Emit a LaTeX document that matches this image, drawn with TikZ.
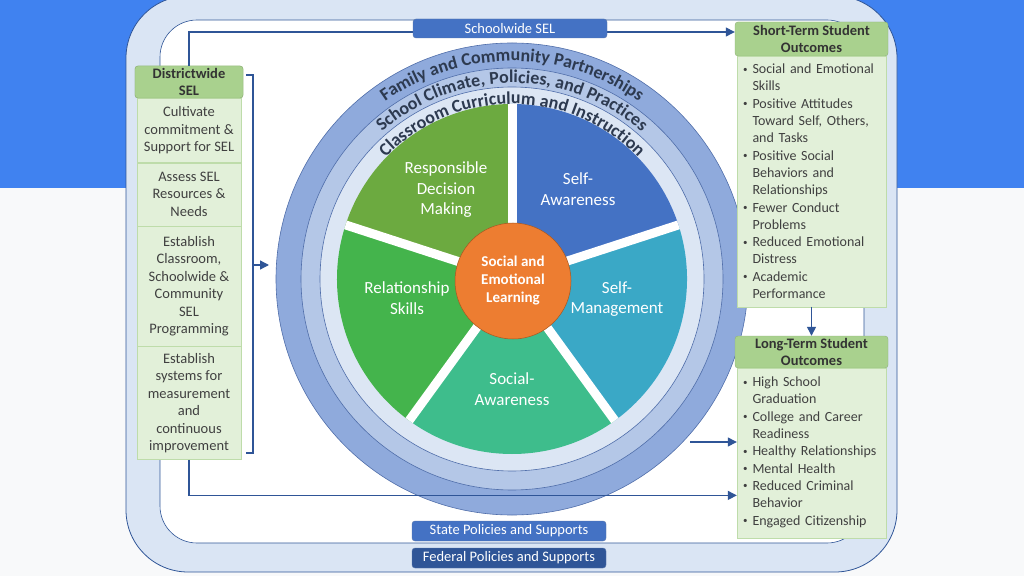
\documentclass[tikz,border=0pt]{standalone}
\usepackage{fontspec}
\setmainfont{Carlito}
\usetikzlibrary{arrows.meta, positioning, calc, decorations.text}
\definecolor{slideBlue}{RGB}{64, 130, 240}
\definecolor{slideGray}{RGB}{248, 249, 250}
\definecolor{frameFill}{RGB}{218, 229, 244}
\definecolor{lineBlue}{RGB}{47, 85, 151}
\definecolor{midBlue}{RGB}{68, 114, 196}
\definecolor{ringOuter}{RGB}{143, 170, 220}
\definecolor{ringMid}{RGB}{180, 199, 231}
\definecolor{ringInner}{RGB}{220, 230, 244}
\definecolor{ringEdge}{RGB}{80, 110, 170}
\definecolor{arcText}{RGB}{45, 58, 80}
\definecolor{hdrGreen}{RGB}{169, 209, 142}
\definecolor{bodyGreen}{RGB}{226, 240, 217}
\definecolor{edgeGreen}{RGB}{190, 220, 170}
\definecolor{bodyText}{RGB}{64, 64, 64}
\definecolor{segAware}{RGB}{68, 114, 196}
\definecolor{segManage}{RGB}{58, 168, 198}
\definecolor{segSocial}{RGB}{62, 189, 140}
\definecolor{segRelate}{RGB}{68, 180, 76}
\definecolor{segDecide}{RGB}{108, 170, 64}
\definecolor{selOrange}{RGB}{237, 125, 49}

\newcommand{\outitem}[1]{\par\hangindent=9.5pt\hangafter=1\noindent\makebox[9.5pt][l]{\raisebox{1.5pt}{\fontsize{9}{9}\selectfont\textbullet}}#1\par}

\begin{document}
\begin{tikzpicture}[
    x=1pt, y=1pt,
    hdr/.style={
        rectangle,
        rounded corners=3pt,
        fill=hdrGreen,
        draw=hdrGreen!85!black,
        font=\fontsize{14.5}{17}\selectfont\bfseries,
        text=black!80,
        align=center,
        inner sep=0pt
    },
    stepbox/.style={
        rectangle,
        fill=bodyGreen,
        draw=edgeGreen,
        font=\fontsize{14.5}{17.5}\selectfont,
        text=bodyText,
        align=center,
        minimum width=104pt,
        inner sep=0pt
    },
    outbox/.style={
        rectangle,
        fill=bodyGreen,
        draw=edgeGreen,
        font=\fontsize{14}{17.3}\selectfont,
        text=bodyText,
        align=left,
        text width=137pt,
        inner xsep=6pt,
        inner ysep=0pt
    },
    policy/.style={
        rectangle,
        rounded corners=3pt,
        fill=midBlue,
        draw=lineBlue!80,
        text=white,
        font=\fontsize{14.5}{16}\selectfont,
        minimum width=194pt,
        minimum height=20pt,
        inner sep=0pt
    },
    flow/.style={
        draw=lineBlue,
        line width=1.3pt,
        -{Triangle[length=9pt, width=9pt]}
    },
    slice/.style={
        font=\fontsize{17}{20.5}\selectfont,
        text=white,
        align=center
    },
    ring/.style={
        draw=ringEdge,
        line width=0.6pt
    }
]
\useasboundingbox (0,0) rectangle (1024,576);

% Slide background
\fill[slideGray] (0,0) rectangle (1024,576);
\fill[slideBlue] (0,388) rectangle (1024,576);

% Frame
\draw[fill=frameFill, draw=lineBlue, line width=0.8pt, rounded corners=62pt] (126,4) rectangle (897,580);
\draw[fill=white, draw=lineBlue, line width=0.6pt, rounded corners=37pt] (160,33) rectangle (864,556);

% Wheel
\coordinate (W) at (512,297);
\fill[ring, fill=ringOuter] (W) circle (236pt);
\draw[ring, fill=ringMid] (W) circle (211pt);
\draw[ring, fill=ringInner] (W) circle (192pt);

\fill[segAware] (W) -- ++(18:175pt) arc[start angle=18, end angle=90, radius=175pt] -- cycle;
\fill[segManage] (W) -- ++(-54:175pt) arc[start angle=-54, end angle=18, radius=175pt] -- cycle;
\fill[segSocial] (W) -- ++(-126:175pt) arc[start angle=-126, end angle=-54, radius=175pt] -- cycle;
\fill[segRelate] (W) -- ++(162:175pt) arc[start angle=162, end angle=234, radius=175pt] -- cycle;
\fill[segDecide] (W) -- ++(90:175pt) arc[start angle=90, end angle=162, radius=175pt] -- cycle;
\foreach \a in {90,18,-54,-126,162}
    \draw[white, line width=9pt] (W) -- ++(\a:175pt);

% Ring labels
\path[decorate, decoration={text along path, text align=center, text color=arcText,
    text={|\fontsize{18}{18}\selectfont\bfseries|Family and Community Partnerships}}]
    ($(W)+(150:218pt)$) arc[start angle=150, end angle=30, radius=218pt];
\path[decorate, decoration={text along path, text align=center, text color=arcText,
    text={|\fontsize{18}{18}\selectfont\bfseries|School Climate, Policies, and Practices}}]
    ($(W)+(150:196pt)$) arc[start angle=150, end angle=30, radius=196pt];
\path[decorate, decoration={text along path, text align=center, text color=arcText,
    text={|\fontsize{18}{18}\selectfont\bfseries|Classroom Curriculum and Instruction}}]
    ($(W)+(150:175pt)$) arc[start angle=150, end angle=30, radius=175pt];

% Competencies
\node[slice] (decide) at (446,386) {Responsible\\Decision\\Making};
\node[slice] (aware) at (578,387) {Self-\\Awareness};
\node[slice] (relate) at (407,278) {Relationship\\Skills};
\node[slice] (manage) at (617,277) {Self-\\Management};
\node[slice] (social) at (512,187) {Social-\\Awareness};
\node[circle, fill=selOrange, draw=selOrange!70!black, line width=0.5pt, minimum size=116pt,
      font=\fontsize{15}{18}\selectfont\bfseries, text=white, align=center] (sel) at (513,295)
      {Social and\\Emotional\\Learning};

% Districtwide SEL
\node[hdr, minimum width=108pt, minimum height=32pt] (dhdr) at (189,494) {Districtwide\\SEL};
\node[stepbox, minimum height=64pt, below=0pt of dhdr] (dstep1) {Cultivate\\commitment \&\\Support for SEL};
\node[stepbox, minimum height=63pt, below=0pt of dstep1] (dstep2) {Assess SEL\\Resources \&\\Needs};
\node[stepbox, minimum height=120pt, below=0pt of dstep2] (dstep3) {Establish\\Classroom,\\Schoolwide \&\\Community\\SEL\\Programming};
\node[stepbox, minimum height=113pt, below=0pt of dstep3] (dstep4) {Establish\\systems for\\measurement\\and\\continuous\\improvement};
\node[hdr, minimum width=108pt, minimum height=32pt] at (dhdr) {Districtwide\\SEL};

% Student outcomes
\node[hdr, minimum width=153pt, minimum height=34pt] (sthdr) at (811.5,537) {Short-Term Student\\Outcomes};
\node[outbox, minimum height=249pt, below=0pt of sthdr] (stbody) {%
    \outitem{Social and Emotional\newline Skills}
    \outitem{Positive Attitudes\newline Toward Self, Others,\newline and Tasks}
    \outitem{Positive Social\newline Behaviors and\newline Relationships}
    \outitem{Fewer Conduct\newline Problems}
    \outitem{Reduced Emotional\newline Distress}
    \outitem{Academic\newline Performance}\vspace*{8pt}};
\node[hdr, minimum width=153pt, minimum height=32pt] (lthdr) at (811.5,224) {Long-Term Student\\Outcomes};
\node[outbox, minimum height=170pt, below=0pt of lthdr] (ltbody) {%
    \outitem{High School\newline Graduation}
    \outitem{College and Career\newline Readiness}
    \outitem{Healthy Relationships}
    \outitem{Mental Health}
    \outitem{Reduced Criminal\newline Behavior}
    \outitem{Engaged Citizenship}\vspace*{10pt}};

% Connectors
\coordinate (brtop) at (246,501);
\coordinate (brbot) at (246,123);
\coordinate (brmid) at (253,311);
\coordinate (wheelin) at (269,311);
\coordinate (wheelout) at (690,134);
\draw[draw=lineBlue, line width=1.3pt] (brtop) -- ++(7,0) |- (brbot);
\draw[flow] (brmid) -- (wheelin);
\draw[flow] (dhdr.north) |- ([yshift=7pt]sthdr.west);
\draw[flow] (dstep4.south) |- ([yshift=-42pt]ltbody.west);
\draw[flow] (wheelout) -- (wheelout -| ltbody.west);
\draw[flow] (stbody.south) -- (lthdr.north);

% Policy levels
\node[policy, minimum height=19pt] (schoolwide) at (510,547.5) {Schoolwide SEL};
\node[policy] (state) at (509,45) {State Policies and Supports};
\node[policy, fill=lineBlue] (federal) at (509,18) {Federal Policies and Supports};

\end{tikzpicture}
\end{document}
